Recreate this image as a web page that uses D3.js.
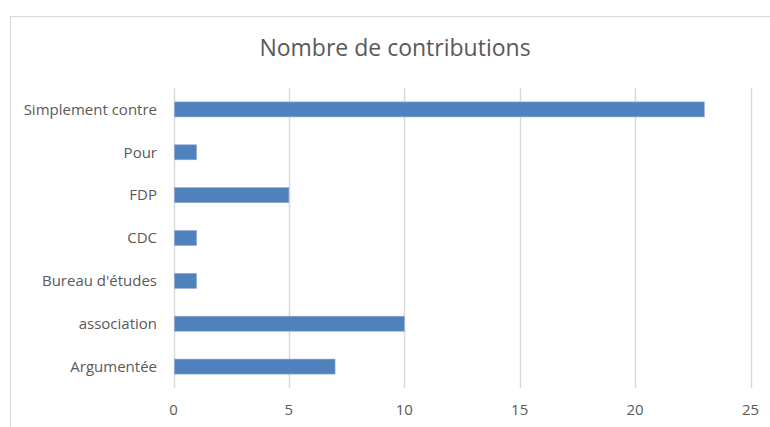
<!DOCTYPE html>
<html>
<head>
<meta charset="utf-8">
<script src="https://cdn.jsdelivr.net/npm/d3@7"></script>
<style>
  body { margin: 0; background: #fff; }
  text { font-family: "Open Sans", sans-serif; }
</style>
</head>
<body>
<svg id="chart" width="770" height="427"></svg>
<script>
const categories = ["Simplement contre", "Pour", "FDP", "CDC", "Bureau d'études", "association", "Argumentée"];
const values = [23, 1, 5, 1, 1, 10, 7];
const ticks = [0, 5, 10, 15, 20, 25];
const title = "Nombre de contributions";

const svg = d3.select("#chart");
const margin = { top: 88, left: 173.5, bottom: 39, right: 19.5 };
const width = 770, height = 427;

// chart border (cropped on right and bottom)
svg.append("rect")
  .attr("x", 10.5).attr("y", 16.5)
  .attr("width", 800).attr("height", 500)
  .attr("fill", "none")
  .attr("stroke", "#d9d9d9")
  .attr("stroke-width", 1);

const x = d3.scaleLinear().domain([0, 25]).range([margin.left, width - margin.right]);
const y = d3.scaleBand().domain(categories)
  .range([margin.top, height - margin.bottom])
  .paddingInner(0.65).paddingOuter(0.325);

// gridlines
svg.append("g")
  .selectAll("line")
  .data(ticks)
  .join("line")
  .attr("x1", d => Math.round(x(d)) + 0.5)
  .attr("x2", d => Math.round(x(d)) + 0.5)
  .attr("y1", margin.top)
  .attr("y2", height - margin.bottom)
  .attr("stroke", "#d9d9d9")
  .attr("stroke-width", 1.5);

// bars
svg.append("g")
  .selectAll("rect")
  .data(categories)
  .join("rect")
  .attr("x", x(0) + 1)
  .attr("y", d => y(d))
  .attr("width", (d, i) => x(values[i]) - x(0) - 1)
  .attr("height", y.bandwidth())
  .attr("fill", "#4f81bd")
  .attr("stroke", "#8eabd6")
  .attr("stroke-width", 0.6);

// x tick labels
svg.append("g")
  .selectAll("text")
  .data(ticks)
  .join("text")
  .attr("x", d => x(d))
  .attr("y", 415)
  .attr("text-anchor", "middle")
  .attr("font-size", 15)
  .attr("fill", "#595959")
  .text(d => d);

// category labels
svg.append("g")
  .selectAll("text")
  .data(categories)
  .join("text")
  .attr("x", 157)
  .attr("y", d => y(d) + y.bandwidth() / 2)
  .attr("dy", "0.35em")
  .attr("text-anchor", "end")
  .attr("font-size", 15)
  .attr("fill", "#595959")
  .text(d => d);

svg.append("text")
  .attr("x", 395)
  .attr("y", 56)
  .attr("text-anchor", "middle")
  .attr("font-size", 23)
  .attr("fill", "#595959")
  .text(title);
</script>
</body>
</html>
